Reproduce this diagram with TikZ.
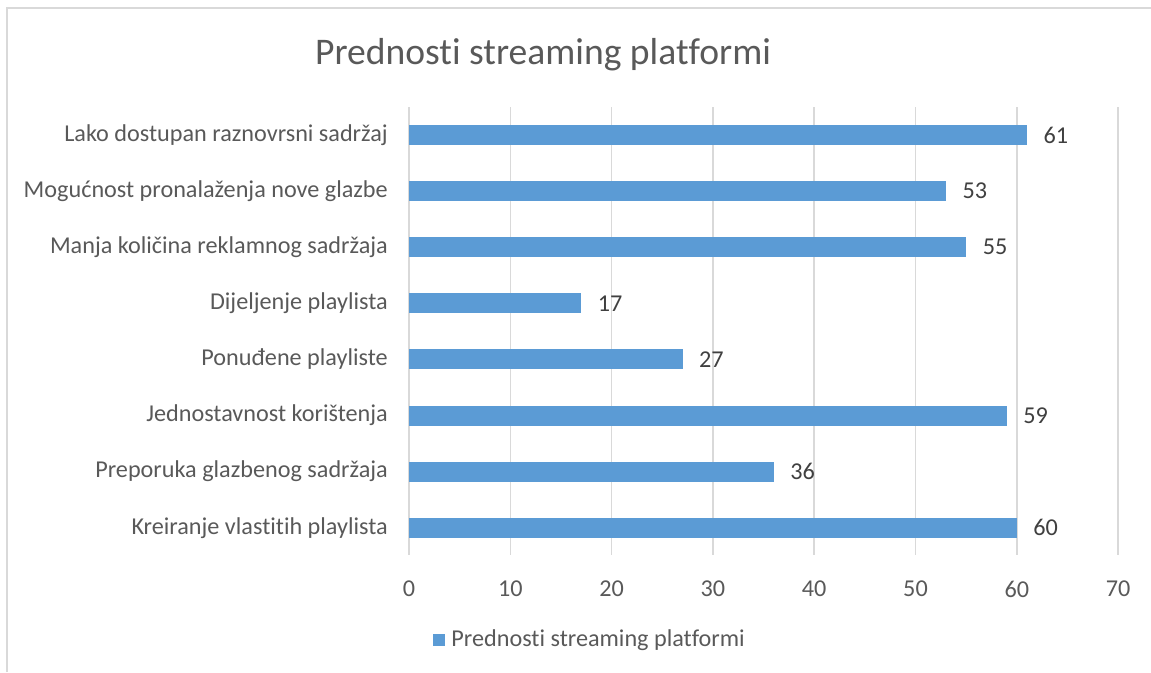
\documentclass[tikz,border=0pt]{standalone}
\usepackage{fontspec}
\setmainfont{Carlito}[Ligatures=NoCommon]
\usetikzlibrary{positioning}
\definecolor{barblue}{HTML}{5B9BD5}
\definecolor{labelgray}{HTML}{595959}
\definecolor{valgray}{HTML}{404040}
\definecolor{gridgray}{HTML}{D9D9D9}

\begin{document}
\begin{tikzpicture}[x=1pt,y=-1pt,
  catlabel/.style={anchor=east,inner sep=0pt,text=labelgray,font=\fontsize{24.2}{29}\selectfont},
  vallabel/.style={anchor=west,inner sep=0pt,text=valgray,font=\fontsize{24.2}{29}\selectfont},
  ticklabel/.style={inner sep=0pt,text=labelgray,font=\fontsize{24.2}{29}\selectfont},
  barbox/.style={fill=barblue,draw=none},
  gridline/.style={draw=gridgray,line width=1.5pt}]
  \useasboundingbox (0,0) rectangle (1151,672);
  \draw[gridgray,line width=1.5pt] (7,672) -- (7,8) -- (1151,8);

  \node (title) [text=labelgray,font=\fontsize{37.6}{45}\selectfont] at (543,55) {Prednosti streaming platformi};

  % vertical grid and axis numbers
  \foreach \v in {0,10,...,70} {
    \draw[gridline] (409+\v*10.13,107) -- (409+\v*10.13,555);
    \node (tick\v) [ticklabel] at (409+\v*10.13,589) {\v};
  }

  % bars
  \foreach \val/\name [count=\i] in {61/Lako dostupan raznovrsni sadržaj,
      53/Mogućnost pronalaženja nove glazbe,
      55/Manja količina reklamnog sadržaja,
      17/Dijeljenje playlista,
      27/Ponuđene playliste,
      59/Jednostavnost korištenja,
      36/Preporuka glazbenog sadržaja,
      60/Kreiranje vlastitih playlista} {
    \pgfmathsetmacro{\yy}{135+(\i-1)*56.1}
    \node (bar\i) [barbox,minimum height=20pt,minimum width=\val*10.13pt,inner sep=0pt,anchor=west] at (409,\yy) {};
    \node (cat\i) [catlabel] at (388,\yy) {\name};
    \node (val\i) [vallabel,right=16pt of bar\i] {\val};
  }

  % legend
  \node (key) [barbox,minimum size=12pt,inner sep=0pt] at (439,640) {};
  \node (keytext) [ticklabel,right=6pt of key] {Prednosti streaming platformi};
\end{tikzpicture}
\end{document}
